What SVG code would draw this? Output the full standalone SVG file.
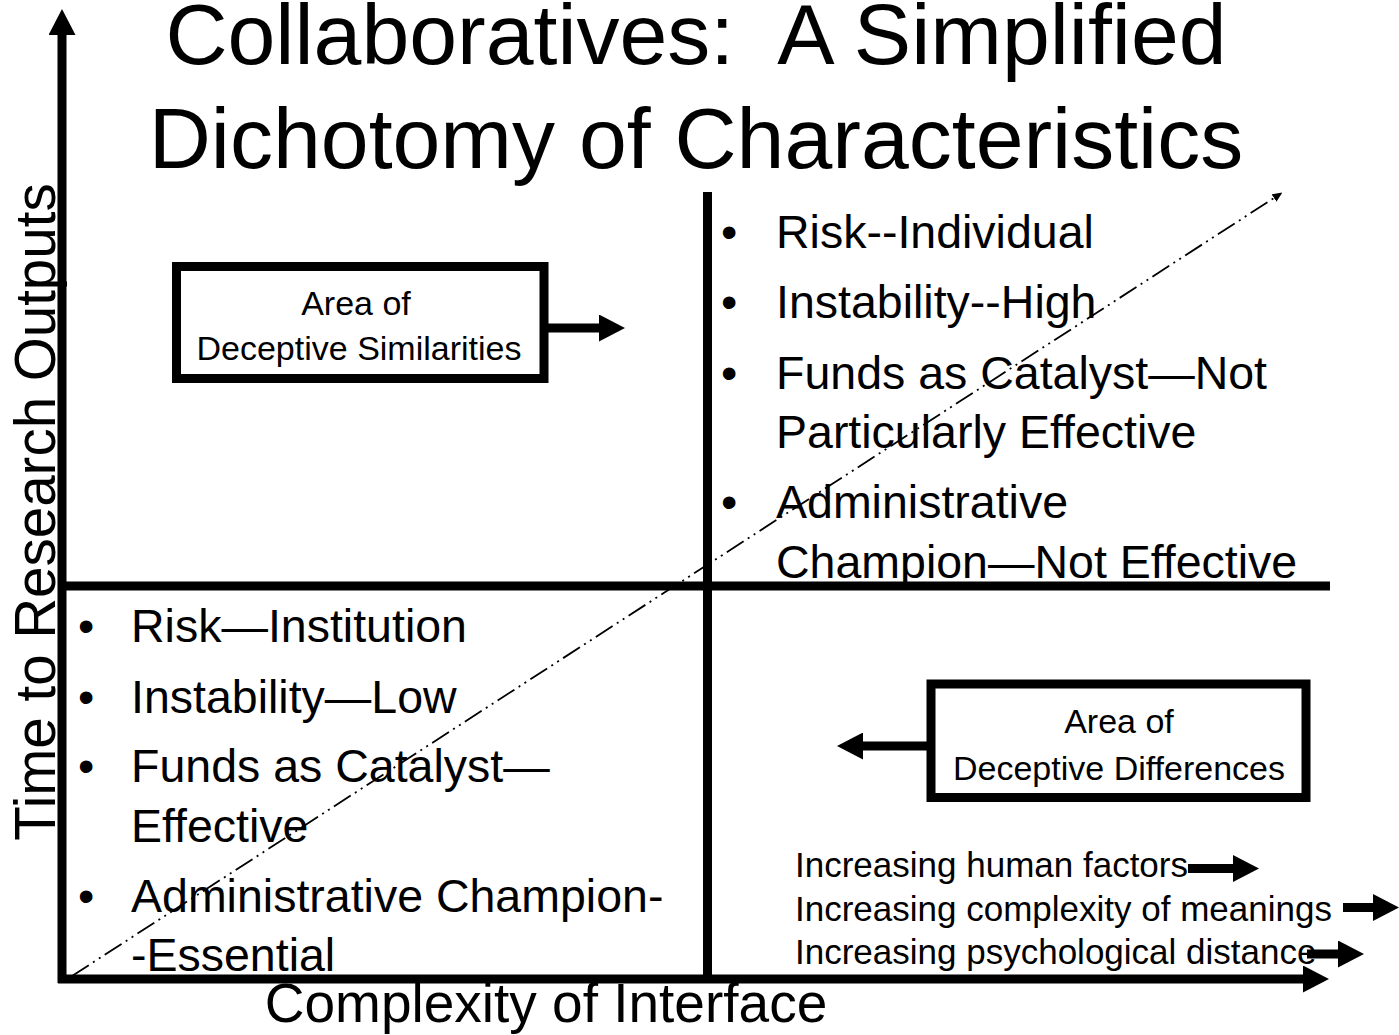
<svg xmlns="http://www.w3.org/2000/svg" width="1399" height="1035" viewBox="0 0 1399 1035">
<style>
  text { font-family: "Liberation Sans", Arial, sans-serif; fill: #000; white-space: pre; }
  .title { font-size: 86px; text-anchor: middle; }
  .axis { font-size: 55px; text-anchor: middle; }
  .yaxis { font-size: 56.5px; text-anchor: middle; }
  .bul { font-size: 46.5px; }
  .box { font-size: 34px; text-anchor: middle; }
  .small { font-size: 35px; }
  .thick { stroke: #000; stroke-width: 9; fill: none; }
  .arrow { stroke: #000; stroke-width: 9; fill: none; marker-end: url(#head); }
  .frame { stroke: #000; stroke-width: 9; fill: #fff; }
  .diag { stroke: #000; stroke-width: 1.8; fill: none; stroke-dasharray: 20 5 2 5 2 5; marker-end: url(#small); }
</style>
<defs>
  <marker id="head" markerUnits="userSpaceOnUse" markerWidth="26" markerHeight="27" refX="0" refY="13.5" orient="auto" viewBox="0 0 26 27">
    <path d="M0,0 L26,13.5 L0,27 Z" fill="#000"/>
  </marker>
  <marker id="small" markerUnits="userSpaceOnUse" markerWidth="10" markerHeight="9" refX="0" refY="4.5" orient="auto" viewBox="0 0 10 9">
    <path d="M0,0 L10,4.5 L0,9 Z" fill="#000"/>
  </marker>
</defs>
<rect width="1399" height="1035" fill="#fff"/>

<g id="title">
  <text class="title" x="696" y="64">Collaboratives:  A Simplified</text>
  <text class="title" x="696" y="168">Dichotomy of Characteristics</text>
</g>

<g id="connectors">
  <line class="diag" x1="72" y1="976" x2="1274" y2="198"/>
  <line class="arrow" x1="62" y1="983" x2="62" y2="35"/>
  <line class="arrow" x1="58" y1="979" x2="1303" y2="979"/>
  <line class="thick" x1="707.5" y1="192" x2="707.5" y2="979"/>
  <line class="thick" x1="62" y1="586" x2="1330" y2="586"/>
  <line class="arrow" x1="548" y1="328" x2="599" y2="328"/>
  <line class="arrow" x1="927" y1="746" x2="863" y2="746"/>
  <line class="arrow" x1="1188" y1="868.5" x2="1233" y2="868.5"/>
  <line class="arrow" x1="1343" y1="907.5" x2="1373" y2="907.5"/>
  <line class="arrow" x1="1307" y1="954" x2="1338" y2="954"/>
</g>

<g id="y-axis-label">
  <text class="yaxis" transform="translate(55,512) rotate(-90)" x="0" y="0">Time to Research Outputs</text>
</g>
<g id="x-axis-label">
  <text class="axis" x="546" y="1022">Complexity of Interface</text>
</g>

<g id="box-similarities">
  <rect class="frame" x="176.5" y="266.5" width="367.5" height="112"/>
  <text class="box" x="356" y="315">Area of</text>
  <text class="box" x="359" y="360">Deceptive Similarities</text>
</g>

<g id="box-differences">
  <rect class="frame" x="931" y="684" width="375" height="113.5"/>
  <text class="box" x="1119" y="733">Area of</text>
  <text class="box" x="1119" y="780">Deceptive Differences</text>
</g>

<g id="upper-right-list">
  <text class="bul" x="721" y="248">•</text>
  <text class="bul" x="776" y="248">Risk--Individual</text>
  <text class="bul" x="721" y="318">•</text>
  <text class="bul" x="776" y="318">Instability--High</text>
  <text class="bul" x="721" y="389">•</text>
  <text class="bul" x="776" y="389">Funds as Catalyst—Not</text>
  <text class="bul" x="776" y="448">Particularly Effective</text>
  <text class="bul" x="721" y="518">•</text>
  <text class="bul" x="776" y="518">Administrative</text>
  <text class="bul" x="776" y="578">Champion—Not Effective</text>
</g>

<g id="lower-left-list">
  <text class="bul" x="78" y="642">•</text>
  <text class="bul" x="131" y="642">Risk—Institution</text>
  <text class="bul" x="78" y="713">•</text>
  <text class="bul" x="131" y="713">Instability—Low</text>
  <text class="bul" x="78" y="782">•</text>
  <text class="bul" x="131" y="782">Funds as Catalyst—</text>
  <text class="bul" x="131" y="842">Effective</text>
  <text class="bul" x="78" y="912">•</text>
  <text class="bul" x="131" y="912">Administrative Champion-</text>
  <text class="bul" x="131" y="971">-Essential</text>
</g>

<g id="increasing-notes">
  <text class="small" x="795" y="877">Increasing human factors</text>
  <text class="small" x="795" y="921">Increasing complexity of meanings</text>
  <text class="small" x="795" y="964">Increasing psychological distance</text>
</g>
</svg>
